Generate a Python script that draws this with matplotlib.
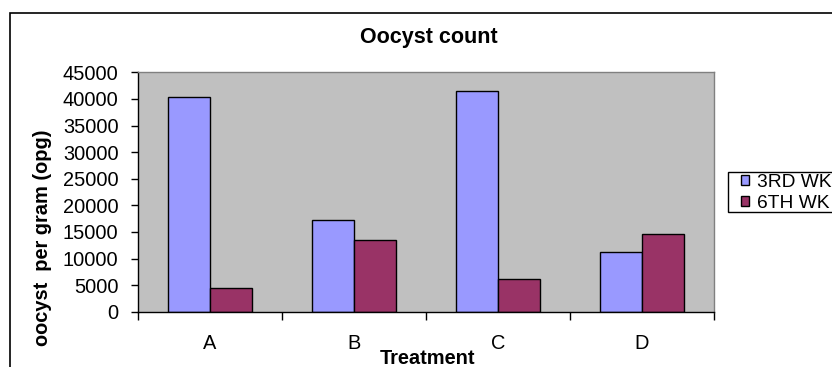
import matplotlib
matplotlib.use("Agg")
import matplotlib.pyplot as plt
from matplotlib.patches import Rectangle
import numpy as np

plt.rcParams['font.family'] = ['Liberation Sans', 'DejaVu Sans']

# Data
treatments = ["A", "B", "C", "D"]
series_names = ["3RD WK", "6TH WK"]
week3 = [40400, 17200, 41500, 11200]
week6 = [4500, 13500, 6100, 14600]
yticks = list(range(0, 45001, 5000))

colors = ["#9999FF", "#993366"]

W, H = 832, 367
fig = plt.figure(figsize=(W / 100, H / 100), dpi=100)
fig.patch.set_facecolor("white")

# Plot area in pixel coordinates
left, right, top, bottom = 138, 714, 72.3, 311.7
ax = fig.add_axes([left / W, 1 - bottom / H, (right - left) / W, (bottom - top) / H])
ax.set_facecolor("#C0C0C0")

x = np.arange(len(treatments))
bw = 0.2917
b1 = ax.bar(x - bw / 2, week3, bw, color=colors[0], edgecolor="black", linewidth=1, label=series_names[0])
b2 = ax.bar(x + bw / 2, week6, bw, color=colors[1], edgecolor="black", linewidth=1, label=series_names[1])

ax.set_xlim(-0.5, len(treatments) - 0.5)
ax.set_ylim(0, 45000)
ax.set_yticks(yticks)
ax.set_yticklabels([str(v) for v in yticks])

# Category boundaries as tick marks, names at centres
ax.set_xticks(np.arange(len(treatments) + 1) - 0.5)
ax.set_xticklabels([])
ax.set_xticks(x, minor=True)
ax.set_xticklabels(treatments, minor=True)
ax.tick_params(axis="x", which="major", direction="out", length=5.5, width=1, color="black")
ax.tick_params(axis="x", which="minor", length=0, pad=16, labelsize=14.4)
ax.tick_params(axis="y", direction="out", length=5, width=1, color="black", pad=9, labelsize=14.4)

for s in ("left", "bottom"):
    ax.spines[s].set_color("black")
    ax.spines[s].set_linewidth(1)
for s in ("top", "right"):
    ax.spines[s].set_color("#808080")
    ax.spines[s].set_linewidth(1)

# Titles and axis labels
fig.text(428.5 / W, 1 - 37.5 / H, "Oocyst count", ha="center", va="center",
         fontsize=15.5, fontweight="bold")
fig.text(428 / W, 1 - 359 / H, "Treatment", ha="center", va="center",
         fontsize=14.4, fontweight="bold")
fig.text(43 / W, 1 - 238 / H, "oocyst  per gram (opg)", ha="center", va="center",
         rotation=90, fontsize=14.4, fontweight="bold")

# Legend: frame drawn separately so it can run off the right edge
leg_left, leg_top, leg_bottom = 728, 171.7, 211.7
fig.add_artist(Rectangle((leg_left / W, 1 - leg_bottom / H), 0.5, (leg_bottom - leg_top) / H,
                         transform=fig.transFigure, facecolor="white", edgecolor="black",
                         linewidth=1, zorder=4))
leg = fig.legend(handles=[b1, b2], labels=series_names, loc="upper left",
                 bbox_to_anchor=(leg_left / W, 1 - (leg_top + 1) / H), bbox_transform=fig.transFigure,
                 fontsize=13.8, frameon=False,
                 handlelength=0.42, handleheight=0.42, handletextpad=0.42,
                 borderpad=0.0, labelspacing=0.2, borderaxespad=0)
leg.set_zorder(5)
# shift entries right inside the frame
leg._legend_box.set_offset(lambda w, h, xd, yd, r: (leg_left + 12.5 - xd, (H - leg_top - 2) - h + yd))

# Chart area border
fig.add_artist(Rectangle((10 / W, -0.5), 2, (1 - 13 / H) + 0.5, transform=fig.transFigure,
                         fill=False, edgecolor="black", linewidth=1.2))

fig.savefig("out.png", dpi=100)
